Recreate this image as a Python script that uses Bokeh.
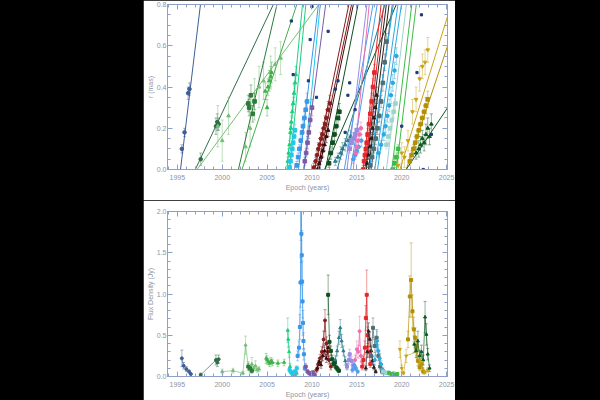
from bokeh.plotting import figure
from bokeh.models import (Range1d, Slope, Whisker, TeeHead, ColumnDataSource, LinearAxis,
                          SingleIntervalTicker, NumeralTickFormatter, CustomJSTickFormatter, Spacer)
from bokeh.layouts import row, column
from bokeh.embed import file_html
from bokeh.resources import INLINE

# ---------------- data: r (mas) vs epoch, flux (Jy) vs epoch, fits (t0, speed) ----------------
C95_T = [1995.5, 1995.8, 1996.2, 1996.35]
C95_R = [0.10, 0.18, 0.37, 0.39]
C95_RE = [0.02, 0.02, 0.03, 0.03]
C95_FT = [1995.5, 1995.7, 1996.0, 1996.3, 1996.5]
C95_F = [0.22, 0.13, 0.09, 0.06, 0.03]
C95_FE = [0.10, 0.04, 0.03, 0.02, 0.01]
C95_FIT = [(1995.35, 0.36)]

C97_T = [1997.6, 1999.3, 1999.45, 1999.6]
C97_R = [0.05, 0.21, 0.23, 0.22]
C97_RE = [0.03, 0.04, 0.04, 0.03]
C97_FT = [1997.6, 1999.3, 1999.45, 1999.6]
C97_F = [0.02, 0.20, 0.17, 0.21]
C97_FE = [0.02, 0.06, 0.05, 0.05]
C97_FIT = [(1997.0, 0.092)]

C99_T = [1999.5, 2000.0, 2000.7, 2002.6, 2003.1, 2003.6, 2004.1, 2004.6, 2005.4, 2005.9, 2006.5]
C99_R = [0.21, 0.14, 0.26, 0.11, 0.20, 0.34, 0.40, 0.43, 0.47, 0.51, 0.54]
C99_RE = [0.10, 0.10, 0.09, 0.07, 0.09, 0.10, 0.10, 0.09, 0.08, 0.08, 0.08]
C99_FT = [2000.0, 2001.2, 2002.3, 2002.6, 2002.9, 2003.1, 2003.3, 2003.5, 2003.7, 2003.9, 2004.1]
C99_F = [0.06, 0.07, 0.04, 0.38, 0.13, 0.08, 0.15, 0.10, 0.13, 0.08, 0.09]
C99_FE = [0.03, 0.03, 0.02, 0.11, 0.05, 0.03, 0.08, 0.03, 0.06, 0.03, 0.03]
C99_FIT = [(1997.2, 0.059)]

C02A_T = [2002.9, 2003.0, 2003.2, 2003.4, 2003.6]
C02A_R = [0.32, 0.30, 0.36, 0.27, 0.33]
C02A_RE = [0.04, 0.04, 0.05, 0.04, 0.04]
C02A_FT = [2002.9, 2003.1, 2003.3]
C02A_F = [0.12, 0.10, 0.07]
C02A_FE = [0.04, 0.03, 0.03]
C02A_FIT = [(2001.8, 0.186)]

C02B_T = [2004.8, 2005.0, 2005.1, 2005.25, 2005.4, 2005.5]
C02B_R = [0.38, 0.30, 0.40, 0.43, 0.45, 0.47]
C02B_RE = [0.04, 0.04, 0.04, 0.05, 0.05, 0.05]
C02B_FT = [2004.9, 2005.0, 2005.15, 2005.3, 2005.45, 2005.6, 2006.2, 2006.9]
C02B_F = [0.22, 0.20, 0.18, 0.16, 0.19, 0.17, 0.16, 0.17]
C02B_FE = [0.06, 0.05, 0.04, 0.04, 0.04, 0.04, 0.04, 0.04]
C02B_FIT = [(2002.2, 0.131)]

C07_T = [2007.3, 2007.4, 2007.5, 2007.6, 2007.65, 2007.7, 2007.8, 2007.9, 2008.0, 2008.1, 2008.2]
C07_R = [0.04, 0.08, 0.12, 0.18, 0.20, 0.23, 0.28, 0.32, 0.37, 0.42, 0.46]
C07_RE = [0.02, 0.02, 0.02, 0.03, 0.03, 0.03, 0.03, 0.03, 0.04, 0.04, 0.04]
C07_FT = [2007.3, 2007.35, 2007.45, 2007.55, 2007.65, 2007.8, 2007.95, 2008.1, 2008.3]
C07_F = [0.56, 0.45, 0.30, 0.12, 0.06, 0.03, 0.02, 0.02, 0.04]
C07_FE = [0.15, 0.10, 0.07, 0.04, 0.02, 0.02, 0.01, 0.01, 0.02]
C07_FIT = [(2007.2, 0.46), (2007.5, 0.44)]

C07C_T = [2007.5, 2007.6, 2007.7, 2007.8, 2007.9, 2008.0, 2008.1]
C07C_R = [0.01, 0.04, 0.07, 0.10, 0.13, 0.16, 0.19]
C07C_RE = [0.02, 0.02, 0.02, 0.02, 0.03, 0.03, 0.03]
C07C_FT = [2007.5, 2007.7, 2007.9, 2008.1, 2008.3]
C07C_F = [0.08, 0.05, 0.03, 0.06, 0.10]
C07C_FE = [0.03, 0.02, 0.02, 0.02, 0.03]
C07C_FIT = [(2009.1, 0.44)]

C08_T = [2008.3, 2008.45, 2008.6, 2008.75, 2008.9, 2009.0, 2009.15, 2009.3, 2009.45]
C08_R = [0.02, 0.06, 0.10, 0.14, 0.18, 0.21, 0.25, 0.29, 0.33]
C08_RE = [0.02, 0.02, 0.02, 0.03, 0.03, 0.03, 0.03, 0.04, 0.04]
C08_FT = [2008.4, 2008.55, 2008.65, 2008.72, 2008.78, 2008.82, 2008.86, 2008.9, 2008.95, 2009.0, 2009.05, 2009.1, 2009.2]
C08_F = [0.25, 0.35, 0.60, 1.14, 2.05, 1.73, 1.47, 1.15, 0.91, 0.65, 0.43, 0.27, 0.10]
C08_FE = [0.06, 0.08, 0.15, 0.30, 0.40, 0.35, 0.30, 0.25, 0.20, 0.15, 0.10, 0.07, 0.03]
C08_FIT = [(2008.5, 0.36)]

C09_T = [2009.2, 2009.35, 2009.5, 2009.65, 2009.8, 2010.0]
C09_R = [0.04, 0.08, 0.13, 0.18, 0.24, 0.30]
C09_RE = [0.02, 0.02, 0.03, 0.03, 0.03, 0.04]
C09_FT = [2009.3, 2009.5, 2009.7, 2009.9, 2010.1, 2010.3]
C09_F = [0.12, 0.06, 0.04, 0.03, 0.05, 0.02]
C09_FE = [0.04, 0.02, 0.02, 0.01, 0.02, 0.01]
C09_FIT = [(2009.1, 0.33)]

C10_T = [2010.2, 2010.4, 2010.55, 2010.7, 2010.85, 2011.0, 2011.15, 2011.3, 2011.45, 2011.6, 2011.8, 2012.0]
C10_R = [0.01, 0.04, 0.07, 0.10, 0.12, 0.15, 0.17, 0.20, 0.22, 0.25, 0.29, 0.32]
C10_RE = [0.02, 0.02, 0.02, 0.03, 0.03, 0.03, 0.03, 0.03, 0.04, 0.04, 0.04, 0.04]
C10_FT = [2010.5, 2010.7, 2010.9, 2011.1, 2011.3, 2011.45, 2011.6, 2011.75, 2011.9, 2012.1]
C10_F = [0.08, 0.15, 0.22, 0.30, 0.45, 0.68, 0.40, 0.30, 0.20, 0.12]
C10_FE = [0.03, 0.04, 0.05, 0.06, 0.10, 0.13, 0.08, 0.06, 0.05, 0.04]
C10_FIT = [(2010.3, 0.21), (2010.6, 0.21)]

C10B_T = [2010.6, 2010.8, 2011.0, 2011.2, 2011.4, 2011.6, 2011.8]
C10B_R = [0.0, 0.03, 0.06, 0.09, 0.12, 0.16, 0.19]
C10B_RE = [0.02, 0.02, 0.02, 0.03, 0.03, 0.03, 0.03]
C10B_FT = [2010.6, 2010.8, 2011.0, 2011.2, 2011.4, 2011.6, 2011.8]
C10B_F = [0.10, 0.18, 0.14, 0.25, 0.31, 0.22, 0.35]
C10B_FE = [0.03, 0.04, 0.04, 0.06, 0.07, 0.05, 0.08]
C10B_FIT = [(2010.8, 0.21)]

C12_T = [2011.9, 2012.1, 2012.3, 2012.5, 2012.7, 2012.9, 2013.05]
C12_R = [0.03, 0.08, 0.13, 0.17, 0.21, 0.25, 0.28]
C12_RE = [0.02, 0.03, 0.03, 0.03, 0.04, 0.04, 0.04]
C12_FT = [2011.8, 2011.95, 2012.1, 2012.25, 2012.4, 2012.55, 2012.7, 2012.85, 2013.0]
C12_F = [0.99, 0.42, 0.31, 0.21, 0.15, 0.17, 0.11, 0.09, 0.07]
C12_FE = [0.24, 0.08, 0.06, 0.05, 0.04, 0.04, 0.03, 0.03, 0.02]
C12_FIT = [(2011.5, 0.22), (2011.4, 0.10)]

C12B_T = [2012.6, 2012.9, 2013.2, 2013.4, 2013.7, 2014.0, 2014.3]
C12B_R = [0.04, 0.06, 0.08, 0.10, 0.12, 0.14, 0.16]
C12B_RE = [0.02, 0.02, 0.03, 0.03, 0.03, 0.03, 0.03]
C12B_FT = [2012.6, 2012.8, 2013.0, 2013.15, 2013.3, 2013.5, 2013.7, 2013.9]
C12B_F = [0.20, 0.31, 0.47, 0.59, 0.43, 0.31, 0.19, 0.12]
C12B_FE = [0.05, 0.06, 0.08, 0.10, 0.08, 0.06, 0.05, 0.04]
C12B_FIT = [(2012.8, 0.15)]

C14_T = [2014.2, 2014.4, 2014.6, 2014.8, 2015.0]
C14_R = [0.10, 0.13, 0.15, 0.17, 0.19]
C14_RE = [0.02, 0.02, 0.03, 0.03, 0.03]
C14_FT = [2013.9, 2014.1, 2014.2, 2014.4, 2014.6, 2014.8]
C14_F = [0.12, 0.20, 0.27, 0.19, 0.13, 0.10]
C14_FE = [0.03, 0.05, 0.06, 0.05, 0.04, 0.03]
C14_FIT = [(2013.9, 0.36)]

C14B_T = [2014.6, 2014.8, 2015.0, 2015.2, 2015.5]
C14B_R = [0.05, 0.07, 0.09, 0.11, 0.14]
C14B_RE = [0.02, 0.02, 0.02, 0.03, 0.03]
C14B_FT = [2014.5, 2014.7, 2014.9, 2015.1]
C14B_F = [0.08, 0.14, 0.10, 0.06]
C14B_FE = [0.03, 0.04, 0.03, 0.02]
C14B_FIT = [(2013.6, 0.25), (2014.3, 0.27)]

C15_T = [2014.9, 2015.0, 2015.15, 2015.3, 2015.45]
C15_R = [0.08, 0.11, 0.14, 0.17, 0.20]
C15_RE = [0.02, 0.02, 0.03, 0.03, 0.03]
C15_FT = [2014.8, 2015.0, 2015.15, 2015.3, 2015.45, 2015.6]
C15_F = [0.20, 0.33, 0.30, 0.55, 0.25, 0.18]
C15_FE = [0.06, 0.10, 0.08, 0.18, 0.07, 0.05]
C15_FIT = [(2014.6, 0.45)]

C16_T = [2015.7, 2015.8, 2015.9, 2016.0, 2016.1, 2016.2, 2016.35, 2016.5, 2016.65, 2016.8, 2016.95]
C16_R = [0.0, 0.04, 0.07, 0.10, 0.13, 0.17, 0.22, 0.27, 0.33, 0.40, 0.47]
C16_RE = [0.02, 0.02, 0.02, 0.02, 0.03, 0.03, 0.03, 0.03, 0.04, 0.04, 0.04]
C16_FT = [2015.6, 2015.75, 2015.9, 2016.0, 2016.1, 2016.2, 2016.35, 2016.5]
C16_F = [0.12, 0.20, 0.35, 0.71, 0.99, 0.50, 0.30, 0.15]
C16_FE = [0.04, 0.05, 0.08, 0.15, 0.30, 0.10, 0.06, 0.04]
C16_FIT = [(2015.7, 0.40), (2015.9, 0.38)]

C16K_T = [2016.0, 2016.15, 2016.3, 2016.45, 2016.6, 2016.75, 2016.9, 2017.05, 2017.2]
C16K_R = [0.0, 0.03, 0.07, 0.11, 0.15, 0.20, 0.25, 0.30, 0.36]
C16K_RE = [0.02, 0.02, 0.02, 0.03, 0.03, 0.03, 0.03, 0.04, 0.04]
C16K_FT = [2016.0, 2016.15, 2016.3, 2016.45, 2016.6, 2016.75, 2016.9, 2017.1]
C16K_F = [0.10, 0.30, 0.55, 0.45, 0.31, 0.19, 0.11, 0.06]
C16K_FE = [0.03, 0.07, 0.10, 0.09, 0.06, 0.05, 0.03, 0.02]
C16K_FIT = [(2016.0, 0.35), (2016.3, 0.35)]

C17S_T = [2016.5, 2016.7, 2016.9, 2017.1, 2017.3, 2017.5, 2017.7, 2017.9, 2018.1, 2018.3]
C17S_R = [0.02, 0.06, 0.10, 0.15, 0.20, 0.26, 0.33, 0.42, 0.52, 0.62]
C17S_RE = [0.02, 0.02, 0.02, 0.03, 0.03, 0.03, 0.03, 0.04, 0.04, 0.04]
C17S_FT = [2016.6, 2016.8, 2017.0, 2017.2, 2017.4, 2017.6, 2017.8]
C17S_F = [0.25, 0.59, 0.37, 0.47, 0.25, 0.12, 0.06]
C17S_FE = [0.06, 0.12, 0.08, 0.10, 0.06, 0.04, 0.03]
C17S_FIT = [(2016.6, 0.34)]

C17C_T = [2017.4, 2017.7, 2018.0, 2018.2, 2018.4, 2018.6, 2018.8, 2019.0, 2019.2, 2019.4]
C17C_R = [0.08, 0.12, 0.17, 0.21, 0.26, 0.31, 0.36, 0.42, 0.48, 0.55]
C17C_RE = [0.02, 0.02, 0.03, 0.03, 0.03, 0.03, 0.04, 0.04, 0.04, 0.04]
C17C_FT = [2017.0, 2017.25, 2017.4, 2017.55, 2017.7, 2017.9, 2018.1]
C17C_F = [0.20, 0.43, 0.31, 0.22, 0.15, 0.08, 0.05]
C17C_FE = [0.06, 0.12, 0.08, 0.06, 0.04, 0.03, 0.02]
C17C_FIT = [(2016.4, 0.30), (2017.0, 0.31), (2017.3, 0.30)]

C18T_T = [2018.3, 2018.5, 2018.7, 2018.9, 2019.1, 2019.3]
C18T_R = [0.12, 0.16, 0.20, 0.24, 0.28, 0.32]
C18T_RE = [0.02, 0.03, 0.03, 0.03, 0.03, 0.04]
C18T_FT = [2017.9, 2018.2, 2018.5, 2018.8, 2019.1]
C18T_F = [0.06, 0.04, 0.05, 0.03, 0.04]
C18T_FE = [0.02, 0.02, 0.02, 0.01, 0.02]
C18T_FIT = [(2018.3, 0.36)]

C19G_T = [2019.0, 2019.2, 2019.4, 2019.6]
C19G_R = [0.0, 0.03, 0.06, 0.10]
C19G_RE = [0.02, 0.02, 0.02, 0.02]
C19G_FT = [2018.6, 2018.9, 2019.2, 2019.5]
C19G_F = [0.04, 0.03, 0.02, 0.03]
C19G_FE = [0.02, 0.01, 0.01, 0.01]
C19G_FIT = [(2018.9, 0.36), (2019.4, 0.36)]

C20_T = [2020.9, 2021.1, 2021.3, 2021.5, 2021.7, 2021.9, 2022.1, 2022.3, 2022.5, 2022.7, 2022.9]
C20_R = [0.04, 0.07, 0.10, 0.13, 0.16, 0.19, 0.22, 0.25, 0.28, 0.31, 0.34]
C20_RE = [0.02, 0.02, 0.02, 0.03, 0.03, 0.03, 0.03, 0.03, 0.03, 0.04, 0.04]
C20_FT = [2020.7, 2020.9, 2021.05, 2021.2, 2021.35, 2021.5, 2021.65, 2021.8, 2022.0, 2022.2, 2022.4]
C20_F = [0.45, 0.97, 1.17, 0.79, 0.57, 0.47, 0.35, 0.19, 0.11, 0.15, 0.06]
C20_FE = [0.10, 0.25, 0.45, 0.20, 0.15, 0.12, 0.10, 0.06, 0.04, 0.05, 0.03]
C20_FIT = [(2020.5, 0.13)]

C20B_T = [2019.6, 2020.0, 2020.3, 2020.7, 2021.2, 2021.6, 2022.0, 2022.3, 2022.6, 2022.9]
C20B_R = [0.02, 0.08, 0.06, 0.14, 0.28, 0.34, 0.44, 0.50, 0.52, 0.58]
C20B_RE = [0.04, 0.05, 0.05, 0.05, 0.06, 0.06, 0.06, 0.06, 0.06, 0.06]
C20B_FT = [2019.8, 2020.0, 2020.2, 2020.5, 2021.7, 2022.0, 2022.3, 2022.6, 2022.9]
C20B_F = [0.33, 0.10, 0.04, 0.25, 0.30, 0.20, 0.10, 0.05, 0.08]
C20B_FE = [0.10, 0.04, 0.02, 0.08, 0.08, 0.06, 0.04, 0.02, 0.03]
C20B_FIT = [(2019.8, 0.14)]

C21_T = [2021.6, 2021.9, 2022.1, 2022.3, 2022.5, 2022.7, 2022.9, 2023.1, 2023.3]
C21_R = [0.08, 0.10, 0.12, 0.15, 0.13, 0.17, 0.20, 0.16, 0.22]
C21_RE = [0.03, 0.04, 0.04, 0.04, 0.04, 0.05, 0.05, 0.04, 0.05]
C21_FT = [2021.4, 2021.6, 2021.8, 2022.0, 2022.2, 2022.4, 2022.6, 2022.75, 2022.9, 2023.1]
C21_F = [0.39, 0.31, 0.43, 0.25, 0.30, 0.20, 0.72, 0.51, 0.27, 0.10]
C21_FE = [0.10, 0.08, 0.12, 0.07, 0.08, 0.06, 0.19, 0.13, 0.07, 0.04]
C21_FIT = [(2020.5, 0.065)]

# unidentified features (small squares, top panel only)
SCAT_T = [2007.7, 2007.9, 2009.6, 2009.8, 2010.0, 2010.5, 2011.8, 2012.6, 2012.9, 2013.7,
          2014.0, 2014.2, 2014.8, 2020.0, 2021.7, 2022.2, 2022.4, 2023.3]
SCAT_R = [0.72, 0.46, 0.43, 0.63, 0.79, 0.35, 0.67, 0.39, 0.43, 0.18,
          0.36, 0.42, 0.29, 0.21, 0.47, 0.75, 0.0, 0.17]

COMPONENTS = [
    (C95_T, C95_R, C95_RE, C95_FT, C95_F, C95_FE, C95_FIT),
    (C97_T, C97_R, C97_RE, C97_FT, C97_F, C97_FE, C97_FIT),
    (C99_T, C99_R, C99_RE, C99_FT, C99_F, C99_FE, C99_FIT),
    (C02A_T, C02A_R, C02A_RE, C02A_FT, C02A_F, C02A_FE, C02A_FIT),
    (C02B_T, C02B_R, C02B_RE, C02B_FT, C02B_F, C02B_FE, C02B_FIT),
    (C07_T, C07_R, C07_RE, C07_FT, C07_F, C07_FE, C07_FIT),
    (C07C_T, C07C_R, C07C_RE, C07C_FT, C07C_F, C07C_FE, C07C_FIT),
    (C08_T, C08_R, C08_RE, C08_FT, C08_F, C08_FE, C08_FIT),
    (C09_T, C09_R, C09_RE, C09_FT, C09_F, C09_FE, C09_FIT),
    (C10_T, C10_R, C10_RE, C10_FT, C10_F, C10_FE, C10_FIT),
    (C10B_T, C10B_R, C10B_RE, C10B_FT, C10B_F, C10B_FE, C10B_FIT),
    (C12_T, C12_R, C12_RE, C12_FT, C12_F, C12_FE, C12_FIT),
    (C12B_T, C12B_R, C12B_RE, C12B_FT, C12B_F, C12B_FE, C12B_FIT),
    (C14_T, C14_R, C14_RE, C14_FT, C14_F, C14_FE, C14_FIT),
    (C14B_T, C14B_R, C14B_RE, C14B_FT, C14B_F, C14B_FE, C14B_FIT),
    (C15_T, C15_R, C15_RE, C15_FT, C15_F, C15_FE, C15_FIT),
    (C16_T, C16_R, C16_RE, C16_FT, C16_F, C16_FE, C16_FIT),
    (C16K_T, C16K_R, C16K_RE, C16K_FT, C16K_F, C16K_FE, C16K_FIT),
    (C17S_T, C17S_R, C17S_RE, C17S_FT, C17S_F, C17S_FE, C17S_FIT),
    (C17C_T, C17C_R, C17C_RE, C17C_FT, C17C_F, C17C_FE, C17C_FIT),
    (C18T_T, C18T_R, C18T_RE, C18T_FT, C18T_F, C18T_FE, C18T_FIT),
    (C19G_T, C19G_R, C19G_RE, C19G_FT, C19G_F, C19G_FE, C19G_FIT),
    (C20_T, C20_R, C20_RE, C20_FT, C20_F, C20_FE, C20_FIT),
    (C20B_T, C20B_R, C20B_RE, C20B_FT, C20B_F, C20B_FE, C20B_FIT),
    (C21_T, C21_R, C21_RE, C21_FT, C21_F, C21_FE, C21_FIT),
]

# ---------------- styles (colour, marker) per component ----------------
STYLES = [
    ("#3d5f95", "circle"), ("#2f6e4a", "circle"), ("#74bf74", "triangle"),
    ("#2d7a3a", "square"), ("#3fb24a", "triangle"), ("#1ccf80", "triangle"),
    ("#22c8e8", "square"), ("#3a96e8", "square"), ("#7b5aa6", "square"),
    ("#861c1c", "circle"), ("#3b0b0b", "triangle"), ("#0f4f1f", "square"),
    ("#2b7d8c", "triangle"), ("#9a8be0", "square"), ("#4a9ff0", "circle"),
    ("#ee6fb0", "circle"), ("#e4262a", "square"), ("#2a1f1f", "triangle"),
    ("#4f6d75", "square"), ("#2aa9e0", "circle"), ("#9fd3cf", "square"),
    ("#3cbc46", "square"), ("#b38f00", "square"), ("#c9a516", "inverted_triangle"),
    ("#0d5a22", "triangle"),
]
SCAT_COLOR = "#1f3a7a"
AXC = "#8fa0c6"
TXC = "#8b94a6"
FONT = "Liberation Sans"


def style_axis(ax, show=True):
    ax.axis_line_color = AXC
    ax.major_tick_line_color = AXC
    ax.minor_tick_line_color = AXC
    ax.major_tick_in = 5
    ax.major_tick_out = 0
    ax.minor_tick_in = 3
    ax.minor_tick_out = 0
    ax.major_label_text_color = TXC
    ax.major_label_text_font = FONT
    ax.axis_label_text_color = TXC
    ax.axis_label_text_font = FONT
    ax.axis_label_text_font_size = "7px"
    ax.axis_label_text_font_style = "normal"
    if show:
        ax.major_label_text_font_size = "7px"
    else:
        ax.major_label_text_font_size = "0px"
        ax.major_label_standoff = 0
        ax.formatter = CustomJSTickFormatter(code="return ''")


def make_fig(yr, yint, yminor, borders, ylabel):
    top, bottom, left, right = borders
    p = figure(width=312, height=200, x_range=Range1d(1993.9, 2025.1), y_range=Range1d(*yr),
               output_backend="svg", toolbar_location=None,
               min_border_top=top, min_border_bottom=bottom,
               min_border_left=left, min_border_right=right,
               x_axis_label="Epoch (years)", y_axis_label=ylabel)
    p.grid.visible = False
    p.outline_line_color = AXC
    p.background_fill_color = "white"
    p.border_fill_color = "white"
    p.xaxis.ticker = SingleIntervalTicker(interval=5, num_minor_ticks=5)
    p.yaxis.ticker = SingleIntervalTicker(interval=yint, num_minor_ticks=yminor)
    p.xaxis.formatter = NumeralTickFormatter(format="0")
    p.yaxis.formatter = NumeralTickFormatter(format="0.0")
    for ax in p.xaxis:
        style_axis(ax)
        ax.major_label_standoff = 5
        ax.axis_label_standoff = 1
    for ax in p.yaxis:
        style_axis(ax)
        ax.major_label_standoff = 1
        ax.axis_label_standoff = 0
    ra = LinearAxis(ticker=SingleIntervalTicker(interval=yint, num_minor_ticks=yminor))
    style_axis(ra, show=False)
    p.add_layout(ra, "right")
    ta = LinearAxis(ticker=SingleIntervalTicker(interval=5, num_minor_ticks=5))
    style_axis(ta, show=False)
    p.add_layout(ta, "above")
    return p


p1 = make_fig((0, 0.8), 0.2, 4, (4, 31, 24, 7), "r (mas)")
p2 = make_fig((0, 2.0), 0.5, 5, (11, 22, 24, 8), "Flux Density (Jy)")


def add_errors(p, src, lo, hi, color):
    head = dict(size=3, line_color=color, line_alpha=0.45)
    p.add_layout(Whisker(source=src, base="t", lower=lo, upper=hi, line_color=color,
                         line_alpha=0.45, line_width=1, level="underlay",
                         upper_head=TeeHead(**head), lower_head=TeeHead(**head)))


for (t, r, re, ft, f, fe, fits), (color, marker) in zip(COMPONENTS, STYLES):
    for t0, mu in fits:
        p1.add_layout(Slope(gradient=mu, y_intercept=-mu * t0, line_color=color,
                            line_width=1, level="underlay"))
    s1 = ColumnDataSource(dict(t=t, y=r, lo=[a - b for a, b in zip(r, re)],
                               hi=[a + b for a, b in zip(r, re)]))
    add_errors(p1, s1, "lo", "hi", color)
    p1.scatter("t", "y", source=s1, marker=marker, size=3.6, color=color)

    s2 = ColumnDataSource(dict(t=ft, y=f, lo=[a - b for a, b in zip(f, fe)],
                               hi=[a + b for a, b in zip(f, fe)]))
    add_errors(p2, s2, "lo", "hi", color)
    p2.line("t", "y", source=s2, line_color=color, line_width=0.8, line_alpha=0.85)
    p2.scatter("t", "y", source=s2, marker=marker, size=3.0, color=color)

p1.scatter(SCAT_T, SCAT_R, marker="square", size=2.2, color=SCAT_COLOR)

layout = row(Spacer(width=143, height=400), column(p1, p2))

html = file_html(layout, INLINE, title="Component kinematics and light curves")
html = html.replace("</head>",
                    "<style>html,body{margin:0;padding:0;background:#000;overflow:hidden;}</style></head>", 1)
open("out.html", "w").write(html)
